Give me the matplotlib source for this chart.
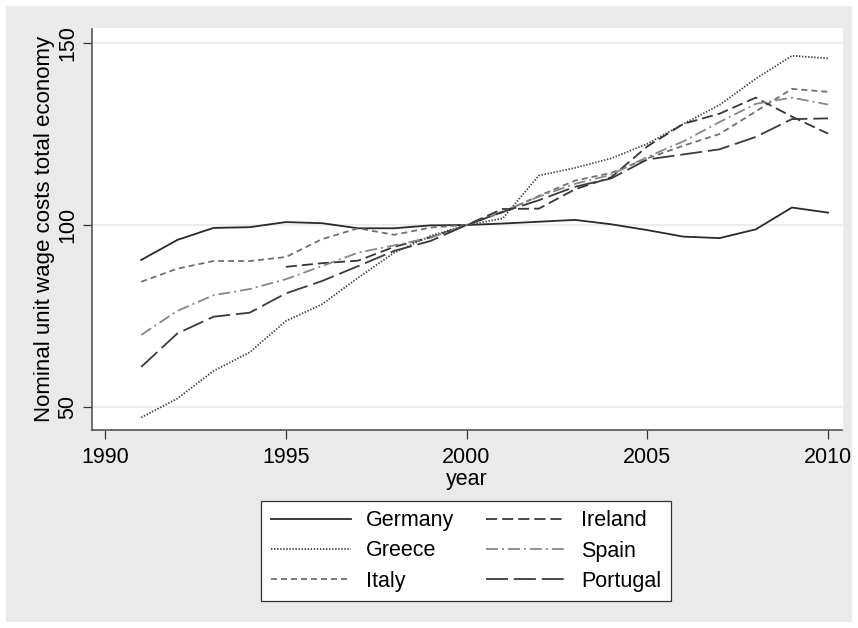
import numpy as np
import matplotlib
matplotlib.use('Agg')
import matplotlib.pyplot as plt
from matplotlib.patches import Rectangle

plt.rcParams['font.family'] = ['Liberation Sans', 'DejaVu Sans']
plt.rcParams['lines.scale_dashes'] = False

# data (index, 2000 = 100)
years = np.arange(1991, 2011)
nan = np.nan
germany = [90.4, 95.9, 99.2, 99.4, 100.8, 100.5, 99.1, 99.1, 99.9, 100.0,
           100.4, 100.9, 101.4, 100.2, 98.6, 96.8, 96.4, 98.8, 104.8, 103.4]
greece = [47.1, 52.3, 59.9, 65.0, 73.6, 78.2, 85.5, 92.4, 97.0, 100.0,
          101.8, 113.6, 115.7, 118.3, 122.3, 127.8, 133.0, 140.2, 146.5, 145.8]
italy = [84.4, 88.0, 90.1, 90.1, 91.2, 96.1, 99.1, 97.3, 99.3, 100.0,
         103.5, 108.0, 112.2, 114.3, 118.3, 121.8, 125.0, 131.2, 137.4, 136.6]
ireland = [nan, nan, nan, nan, 88.5, 89.5, 90.2, 94.0, 96.6, 100.0,
           104.4, 104.5, 109.8, 113.1, 121.6, 127.8, 130.6, 135.0, 129.8, 125.1]
spain = [69.8, 76.4, 80.7, 82.4, 85.1, 88.7, 92.4, 94.4, 96.5, 100.0,
         103.7, 107.8, 111.3, 113.8, 118.7, 123.0, 128.3, 133.3, 135.0, 133.1]
portugal = [61.0, 70.2, 74.8, 75.9, 81.2, 84.6, 88.7, 92.9, 95.6, 100.0,
            103.6, 106.8, 110.5, 112.8, 118.0, 119.4, 120.8, 124.2, 129.1, 129.3]

W, H = 858, 628
fig = plt.figure(figsize=(W / 100, H / 100), dpi=100, facecolor='white')
# stata-like gray graph region with thin white frame
fig.patches.append(Rectangle((6 / W, 6 / H), (W - 12) / W, (H - 12) / H,
                             transform=fig.transFigure, facecolor='#eaeaea',
                             edgecolor='none', zorder=-10))

ax = fig.add_axes([91.7 / W, (H - 429.5) / H, (842.5 - 91.7) / W, (429.5 - 28.5) / H])
ax.set_facecolor('white')

lw = 1.3
ax.plot(years, germany, color='#2a2a2a', lw=lw, linestyle='-', label='Germany')
ax.plot(years, greece, color='#404040', lw=lw, dashes=(1.0, 1.2), label='Greece')
ax.plot(years, italy, color='#707070', lw=lw, dashes=(4.3, 2.9), label='Italy')
ax.plot(years, ireland, color='#363636', lw=lw, dashes=(8.0, 3.6), label='Ireland')
ax.plot(years, spain, color='#878787', lw=lw, dashes=(8.6, 2.9, 1.4, 2.9), label='Spain')
ax.plot(years, portugal, color='#3a3a3a', lw=lw, dashes=(15.8, 4.3), label='Portugal')

ax.set_xlim(1989.63, 2010.40)
ax.set_ylim(43.8, 154.0)
ax.set_xticks([1990, 1995, 2000, 2005, 2010])
ax.set_yticks([50, 100, 150])
ax.yaxis.grid(True, color='#eaeaea', lw=1.2)
ax.set_axisbelow(True)

for s in ['top', 'right']:
    ax.spines[s].set_visible(False)
for s in ['left', 'bottom']:
    ax.spines[s].set_color('#555555')
    ax.spines[s].set_linewidth(1.2)

ax.tick_params(axis='both', colors='#333333', length=6.5, width=0.9,
               labelsize=15.5, labelcolor='black')
ax.tick_params(axis='x', pad=6)
ax.tick_params(axis='y', pad=3)
for lab in ax.get_yticklabels():
    lab.set_rotation(90)
    lab.set_va('center')

ax.set_xlabel('year', fontsize=15.5, labelpad=1)
ax.set_ylabel('Nominal unit wage costs total economy', fontsize=16)
ax.yaxis.set_label_coords(-0.049, 0.5)

leg = fig.legend(loc='center', bbox_to_anchor=(466 / W, (H - 551) / H), ncol=2,
                 fontsize=15.5, frameon=True, fancybox=False, framealpha=1,
                 edgecolor='#333333', handlelength=3.7, handletextpad=0.7,
                 columnspacing=1.5, labelspacing=0.42, borderpad=0.45)
leg.get_frame().set_linewidth(0.9)

fig.savefig('out.png', dpi=100, facecolor=fig.get_facecolor())
